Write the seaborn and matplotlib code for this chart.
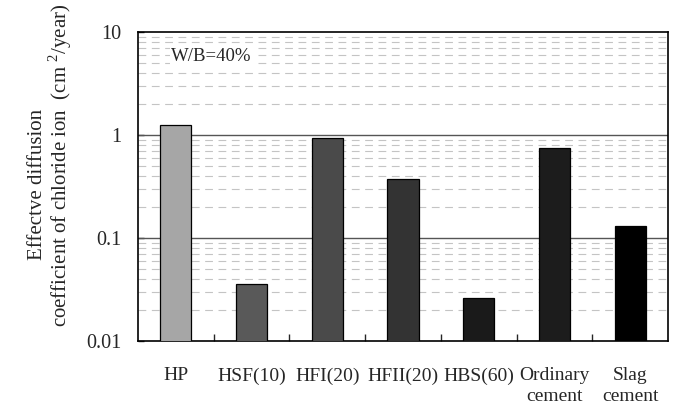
import matplotlib
matplotlib.use("Agg")
import matplotlib.pyplot as plt
import matplotlib.ticker as mticker
import seaborn as sns
import pandas as pd

categories = ["HP", "HSF(10)", "HFI(20)", "HFII(20)", "HBS(60)", "Ordinary\ncement", "Slag\ncement"]
values = [1.25, 0.036, 0.93, 0.37, 0.026, 0.75, 0.13]
bar_colors = ["#a6a6a6", "#595959", "#4a4a4a", "#333333", "#1a1a1a", "#1c1c1c", "#000000"]
y_ticks = [0.01, 0.1, 1, 10]
y_tick_labels = ["0.01", "0.1", "1", "10"]

sns.set_theme(style="white")
plt.rcParams["font.family"] = ["Liberation Serif", "DejaVu Serif"]
plt.rcParams["mathtext.fontset"] = "custom"
plt.rcParams["mathtext.rm"] = "Liberation Serif"

df = pd.DataFrame({"mix": categories, "D": values})

fig = plt.figure(figsize=(6.76, 4.08), dpi=100)
ax = fig.add_axes([138 / 676, 1 - 341 / 408, (668 - 138) / 676, (341 - 32) / 408])

sns.barplot(data=df, x="mix", y="D", hue="mix", palette=bar_colors, legend=False,
            width=0.41, edgecolor="black", linewidth=0.9, ax=ax, zorder=3)

ax.set_yscale("log")
ax.set_ylim(0.01, 10)
ax.set_xlim(-0.5, len(categories) - 0.5)

ax.yaxis.set_major_locator(mticker.FixedLocator(y_ticks))
ax.yaxis.set_major_formatter(mticker.FixedFormatter(y_tick_labels))
ax.yaxis.set_minor_locator(mticker.LogLocator(base=10, subs=range(2, 10)))
ax.yaxis.set_minor_formatter(mticker.NullFormatter())

# solid lines at the decades, dashed light lines in between
ax.grid(False)
for yv in [0.1, 1]:
    ax.axhline(yv, color="#555555", linewidth=1.0, zorder=1)
ax.grid(which="minor", axis="y", color="#c4c4c4", linestyle=(0, (7, 5)), linewidth=0.8, zorder=0)

ax.tick_params(axis="y", which="major", direction="in", length=4, width=1, left=True,
               labelsize=14.5, pad=12)
ax.tick_params(axis="y", which="minor", length=0)

ax.set_xticks(range(len(categories)))
ax.set_xticklabels(categories)
ax.tick_params(axis="x", which="major", length=0, labelsize=14, pad=19)
ax.set_xticks([i + 0.5 for i in range(len(categories) - 1)], minor=True)
ax.tick_params(axis="x", which="minor", direction="in", length=5, width=1, bottom=True)
for lbl in ax.get_xticklabels():
    lbl.set_verticalalignment("top")
    lbl.set_multialignment("center")
    lbl.set_linespacing(1.25)

for s in ax.spines.values():
    s.set_color("black")
    s.set_linewidth(1.2)

ax.set_xlabel("")
ax.set_ylabel("")

ax.text(0.062, 0.922, "W/B=40%", transform=ax.transAxes, fontsize=13.5, ha="left", va="center",
        bbox=dict(facecolor="white", edgecolor="none", pad=1), zorder=4)

fig.text(38 / 676, 1 - 184 / 408, "Effectve diffusion", rotation=90, fontsize=15,
         ha="center", va="center")
fig.text(60 / 676, 1 - 165 / 408, "coefficient of chloride ion  (cm $^{2}$/year)", rotation=90,
         fontsize=15, ha="center", va="center")

fig.savefig("out.png", dpi=100, facecolor="white")
